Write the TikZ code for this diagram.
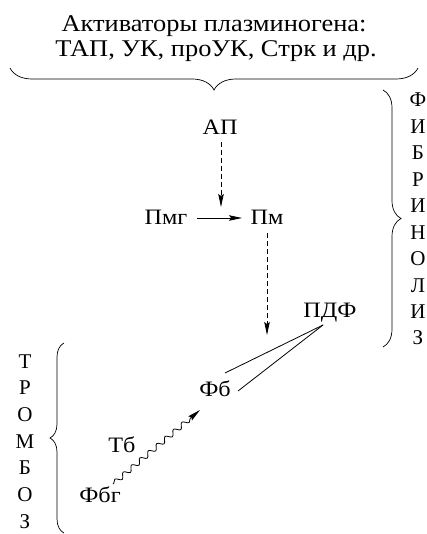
\documentclass[tikz,border=0pt]{standalone}
\usepackage{fontspec}
\setmainfont{Liberation Serif}
\usetikzlibrary{arrows.meta,decorations.pathreplacing,decorations.pathmorphing}
\newcommand{\wide}[1]{\scalebox{1.1}[1]{#1}}
\begin{document}
\begin{tikzpicture}[x=1pt,y=-1pt,
  ttl/.style={inner sep=0pt,anchor=base,font=\fontsize{24}{30}\selectfont},
  lbl/.style={inner sep=0pt,anchor=base,font=\fontsize{22}{28}\selectfont},
  vlbl/.style={inner sep=0pt,anchor=base,font=\fontsize{21}{25}\selectfont},
  arr/.style={-{Stealth[length=13pt,width=5.5pt,inset=2pt]},line width=0.8pt},
  darr/.style={arr,dash pattern=on 5pt off 3pt},
  brc/.style={decorate,line width=0.7pt},
  ln/.style={line width=0.8pt}]
\useasboundingbox (0,0) rectangle (427,534);
% title
\node[ttl] (t1) at (214,32) {\wide{Активаторы плазминогена:}};
\node[ttl] (t2) at (216,57) {\wide{ТАП, УК, проУК, Стрк и др.}};
\draw[brc,decoration={brace,amplitude=22pt,aspect=0.5}] (418,68) -- (10,68);
% main nodes
\node[lbl] (ap) at (220,135) {\wide{АП}};
\node[lbl] (pmg) at (166,225) {\wide{Пмг}};
\node[lbl] (pm) at (267,225) {\wide{Пм}};
\node[lbl] (pdf) at (330,317) {\wide{ПДФ}};
\node[lbl] (fb) at (215,396) {\wide{Фб}};
\node[lbl] (tb) at (122,452) {\wide{Тб}};
\node[lbl] (fbg) at (100,502) {\wide{Фбг}};
\coordinate (c1) at (221,207);
\coordinate (h1) at (197,218);
\coordinate (h2) at (242,218);
\coordinate (c2) at (267,335);
\coordinate (apex) at (323,325);
\coordinate (e1) at (225,373);
\coordinate (e2) at (238,391);
\coordinate (w1) at (113,484);
\coordinate (w2) at (200,410);
\draw[darr] (ap.south -| c1) ++(0,7) -- (c1);
\draw[arr] (h1) -- (h2);
\draw[darr] (pm.south -| c2) ++(0,8) -- (c2);
\draw[ln] (apex) -- (e1);
\draw[ln] (apex) -- (e2);
\draw[arr,decorate,decoration={snake,amplitude=2.5pt,segment length=11pt,pre length=1pt,post length=10pt}] (w1) -- (w2);
% right brace & label
\draw[brc,decoration={brace,amplitude=18pt}] (383,90) -- (383,347);
\foreach \l [count=\i from 0] in {Ф,И,Б,Р,И,Н,О,Л,И,З}
  \node[vlbl] (f\i) at (418,107+26.44*\i) {\l};
% left brace & label
\draw[brc,decoration={brace,amplitude=14pt}] (64,533) -- (64,343);
\foreach \l [count=\i from 0] in {Т,Р,О,М,Б,О,З}
  \node[vlbl] (r\i) at (25,368+26.67*\i) {\l};
\end{tikzpicture}
\end{document}
